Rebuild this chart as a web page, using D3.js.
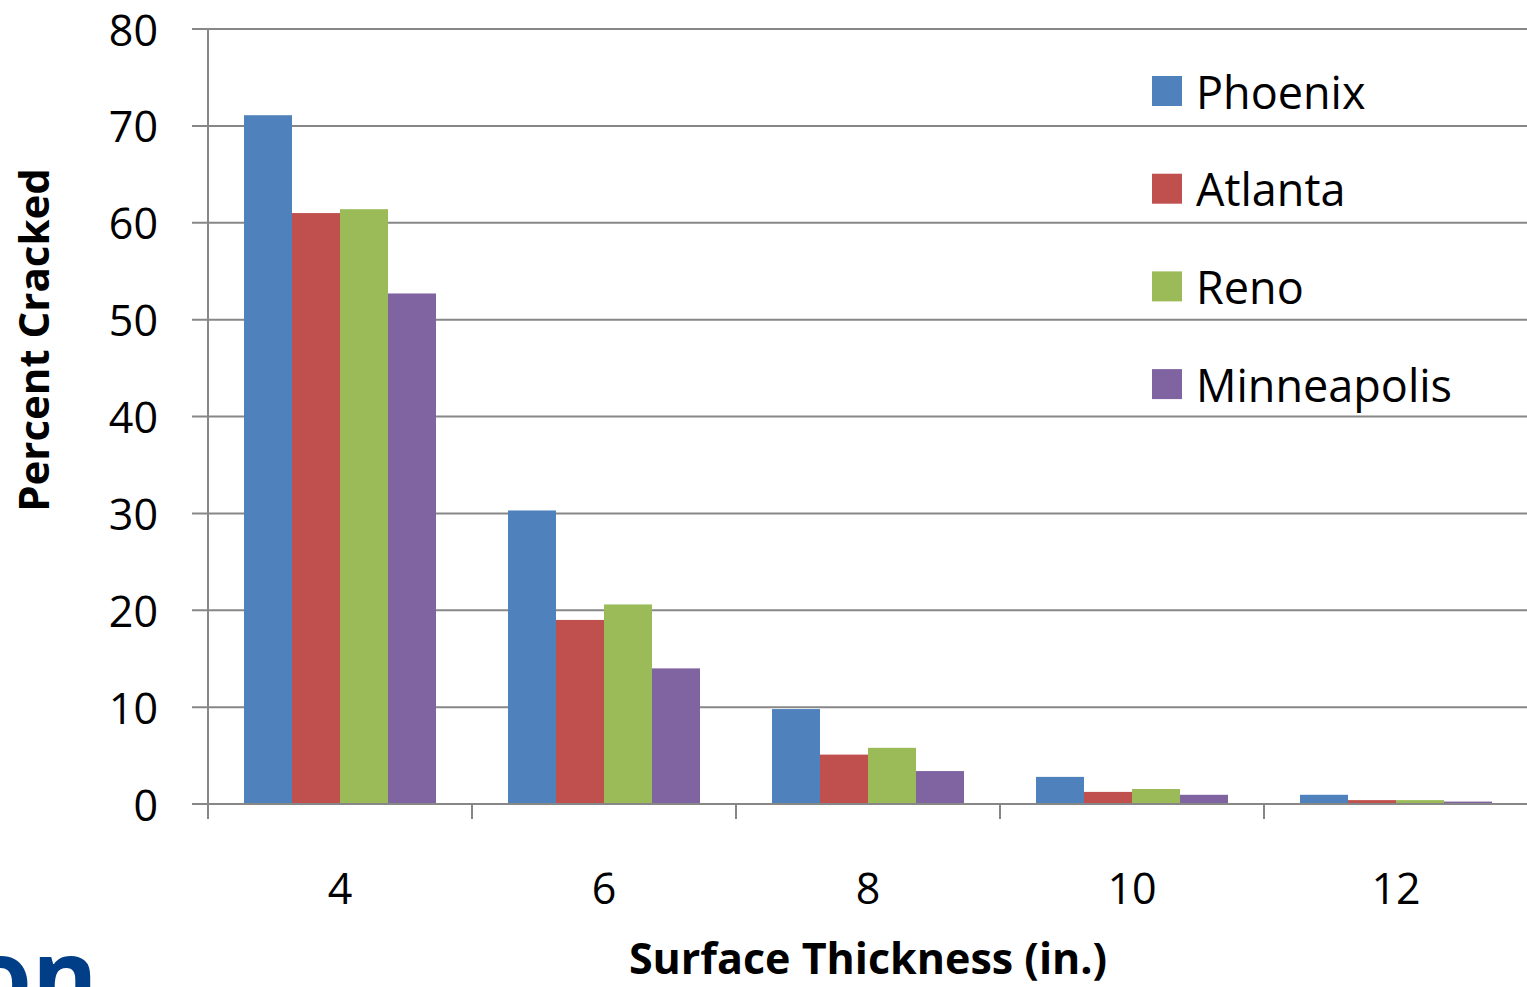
<!DOCTYPE html>
<html>
<head>
<meta charset="utf-8">
<script src="https://cdn.jsdelivr.net/npm/d3@7"></script>
<style>
  html, body { margin: 0; padding: 0; background: #ffffff; overflow: hidden; }
  svg { display: block; font-family: "Open Sans", "Liberation Sans", sans-serif; }
</style>
</head>
<body>
<svg id="chart" width="1527" height="987"></svg>
<script>
// Surface thickness categories (inches)
const categories = ["4", "6", "8", "10", "12"];
const seriesNames = ["Phoenix", "Atlanta", "Reno", "Minneapolis"];
const seriesColors = ["#4F81BD", "#C0504D", "#9BBB59", "#8064A2"];

// Percent cracked per city, in category order
const phoenix     = [71.1, 30.3, 9.8, 2.8, 0.95];
const atlanta     = [61.0, 19.0, 5.1, 1.25, 0.4];
const reno        = [61.4, 20.6, 5.8, 1.55, 0.4];
const minneapolis = [52.7, 14.0, 3.4, 0.95, 0.25];
const seriesValues = [phoenix, atlanta, reno, minneapolis];

const yTicks = [0, 10, 20, 30, 40, 50, 60, 70, 80];

const svg = d3.select("#chart");
const W = 1527, H = 987;
const plot = { left: 208, right: 1528, top: 29, bottom: 804 };

const x0 = d3.scaleBand().domain(categories).range([plot.left, plot.right]).paddingInner(0).paddingOuter(0);
const x1 = d3.scaleBand().domain(seriesNames).range([36, x0.bandwidth() - 36]).padding(0);
const y = d3.scaleLinear().domain([0, 80]).range([plot.bottom, plot.top]);

const gridColor = "#878787";

// horizontal gridlines with ticks extending left of the axis
svg.append("g")
  .selectAll("line")
  .data(yTicks.filter(d => d > 0))
  .join("line")
  .attr("x1", 192).attr("x2", W)
  .attr("y1", d => y(d)).attr("y2", d => y(d))
  .attr("stroke", gridColor).attr("stroke-width", 2);

// bars
const groups = svg.append("g")
  .selectAll("g")
  .data(categories)
  .join("g")
  .attr("transform", d => `translate(${x0(d)},0)`);

groups.selectAll("rect")
  .data((c, ci) => seriesNames.map((s, si) => ({ s, si, v: seriesValues[si][ci] })))
  .join("rect")
  .attr("x", d => x1(d.s))
  .attr("width", x1.bandwidth())
  .attr("y", d => y(d.v))
  .attr("height", d => y(0) - y(d.v))
  .attr("fill", d => seriesColors[d.si]);

// y axis line
svg.append("line")
  .attr("x1", plot.left).attr("x2", plot.left)
  .attr("y1", plot.top).attr("y2", 819)
  .attr("stroke", gridColor).attr("stroke-width", 2);

// x axis baseline, with the zero tick to the left
svg.append("line")
  .attr("x1", 192).attr("x2", W)
  .attr("y1", y(0)).attr("y2", y(0))
  .attr("stroke", gridColor).attr("stroke-width", 2);

// category boundary ticks
svg.append("g")
  .selectAll("line")
  .data(categories.slice(1))
  .join("line")
  .attr("x1", d => x0(d)).attr("x2", d => x0(d))
  .attr("y1", y(0)).attr("y2", 819)
  .attr("stroke", gridColor).attr("stroke-width", 2);

// y tick labels
svg.append("g")
  .selectAll("text")
  .data(yTicks)
  .join("text")
  .attr("x", 158)
  .attr("y", d => y(d))
  .attr("text-anchor", "end")
  .attr("dominant-baseline", "central")
  .attr("font-size", 43)
  .attr("fill", "#000")
  .text(d => d);

// x tick labels
svg.append("g")
  .selectAll("text")
  .data(categories)
  .join("text")
  .attr("x", d => x0(d) + x0.bandwidth() / 2)
  .attr("y", 887)
  .attr("text-anchor", "middle")
  .attr("dominant-baseline", "central")
  .attr("font-size", 43)
  .attr("fill", "#000")
  .text(d => d);

// axis titles
svg.append("text")
  .attr("transform", "translate(32,340) rotate(-90)")
  .attr("text-anchor", "middle")
  .attr("dominant-baseline", "central")
  .attr("font-size", 42)
  .attr("font-weight", "bold")
  .attr("fill", "#000")
  .text("Percent Cracked");

svg.append("text")
  .attr("x", 868)
  .attr("y", 974)
  .attr("text-anchor", "middle")
  .attr("font-size", 43)
  .attr("font-weight", "bold")
  .attr("fill", "#000")
  .text("Surface Thickness (in.)");

// legend
const legend = svg.append("g")
  .selectAll("g")
  .data(seriesNames)
  .join("g")
  .attr("transform", (d, i) => `translate(1152,${91 + i * 97.7})`);

legend.append("rect")
  .attr("x", 0).attr("y", -15)
  .attr("width", 30).attr("height", 30)
  .attr("fill", (d, i) => seriesColors[i]);

legend.append("text")
  .attr("x", 44)
  .attr("y", 0)
  .attr("dominant-baseline", "central")
  .attr("font-size", 45)
  .attr("fill", "#000")
  .text(d => d);

// partial logo lettering at the lower-left corner
svg.append("text")
  .attr("x", -30)
  .attr("y", 1012)
  .attr("font-size", 100)
  .attr("font-weight", "bold")
  .attr("fill", "#003F87")
  .text("on");
</script>
</body>
</html>
